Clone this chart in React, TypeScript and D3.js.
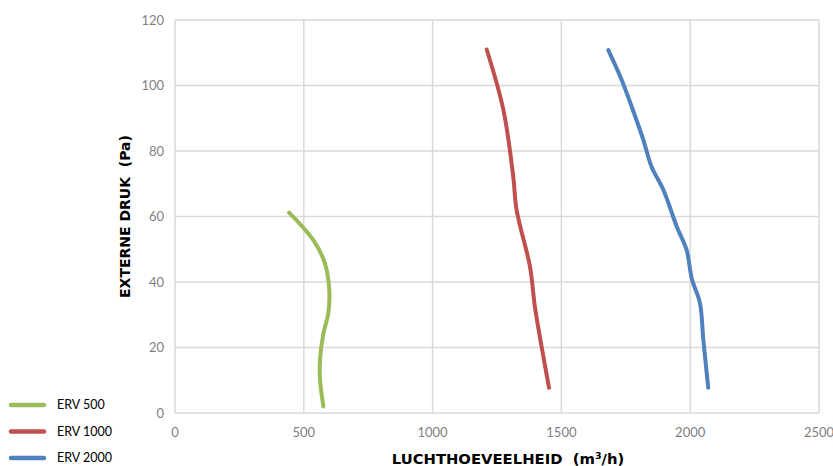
import React from "react";
import * as d3 from "d3";

const seriesNames = ["ERV 500", "ERV 1000", "ERV 2000"];
const seriesColors = ["#9BBB59", "#C0504D", "#4F81BD"];

const erv500Flow = [443, 537, 582, 599, 595, 576, 563, 563, 576];
const erv500Press = [61.2, 52.8, 45.7, 37.6, 30.4, 24.3, 16.2, 10.1, 2.0];

const erv1000Flow = [1210, 1275, 1313, 1326, 1378, 1397, 1423, 1452];
const erv1000Press = [111.0, 92.5, 72.2, 62.0, 44.7, 32.5, 20.3, 7.7];

const erv2000Flow = [1682, 1734, 1773, 1818, 1850, 1896, 1948, 1986, 2006, 2038, 2051, 2070];
const erv2000Press = [110.8, 101.7, 93.5, 83.4, 75.2, 68.1, 56.9, 49.8, 41.1, 33.5, 22.3, 7.7];

const xTicks = [0, 500, 1000, 1500, 2000, 2500];
const yTicks = [0, 20, 40, 60, 80, 100, 120];

const xTitle = "LUCHTHOEVEELHEID";
const yTitle = "EXTERNE DRUK\u00a0\u00a0(Pa)";

const W = 833;
const H = 466;
const FONT = "Lato, 'Noto Sans', sans-serif";
const TITLE_FONT = "'DejaVu Sans', Lato, sans-serif";

export default function App() {
  const x = d3.scaleLinear().domain([0, 2500]).range([175, 819]);
  const y = d3.scaleLinear().domain([0, 120]).range([413, 20]);
  const series = [
    { flow: erv500Flow, press: erv500Press },
    { flow: erv1000Flow, press: erv1000Press },
    { flow: erv2000Flow, press: erv2000Press },
  ];
  const line = d3
    .line<[number, number]>()
    .x((d) => x(d[0]))
    .y((d) => y(d[1]))
    .curve(d3.curveCatmullRom.alpha(0.5));
  const grid = "#d9d9d9";
  const tickColor = "#7f7f7f";
  return (
    <svg
      width={W}
      height={H}
      style={{ position: "absolute", left: 0, top: 0, display: "block", background: "#fff" }}
      fontFamily={FONT}
    >
      {yTicks.map((t) => (
        <line key={"gy" + t} x1={x(0)} x2={x(2500)} y1={y(t)} y2={y(t)} stroke={grid} strokeWidth={1.5} />
      ))}
      {xTicks.map((t) => (
        <line key={"gx" + t} x1={x(t)} x2={x(t)} y1={y(0)} y2={y(120)} stroke={grid} strokeWidth={1.5} />
      ))}
      {yTicks.map((t) => (
        <text key={"ty" + t} x={x(0) - 11} y={y(t)} dy="0.35em" textAnchor="end" fontSize={13} fill={tickColor}>
          {t}
        </text>
      ))}
      {xTicks.map((t) => (
        <text key={"tx" + t} x={x(t)} y={y(0) + 19} dy="0.35em" textAnchor="middle" fontSize={13} fill={tickColor}>
          {t}
        </text>
      ))}
      {series.map((s, i) => (
        <path
          key={"s" + i}
          d={line(s.flow.map((f, j) => [f, s.press[j]] as [number, number])) || ""}
          fill="none"
          stroke={seriesColors[i]}
          strokeWidth={4}
          strokeLinecap="round"
          strokeLinejoin="round"
        />
      ))}
      <text
        transform={`translate(125, ${y(60)}) rotate(-90)`}
        textAnchor="middle"
        dy="0.35em"
        fontSize={14}
        fontWeight="bold"
        fontFamily={TITLE_FONT}
        fill="#000"
      >
        {yTitle}
      </text>
      <text
        x={508}
        y={459}
        dy="0.35em"
        textAnchor="middle"
        fontSize={14.8}
        fontWeight="bold"
        fontFamily={TITLE_FONT}
        fill="#000"
      >
        {xTitle}
        {"\u00a0\u00a0(m"}
        <tspan fontSize={9.5} dy="-5">3</tspan>
        <tspan dy="5">/h)</tspan>
      </text>
      {seriesNames.map((n, i) => (
        <g key={"lg" + i} transform={`translate(0, ${405 + i * 26.5})`}>
          <line x1={11} x2={44} y1={0} y2={0} stroke={seriesColors[i]} strokeWidth={4.5} strokeLinecap="round" />
          <text x={57} y={0} dy="0.35em" fontSize={12.5} fill="#000">
            {n}
          </text>
        </g>
      ))}
    </svg>
  );
}
